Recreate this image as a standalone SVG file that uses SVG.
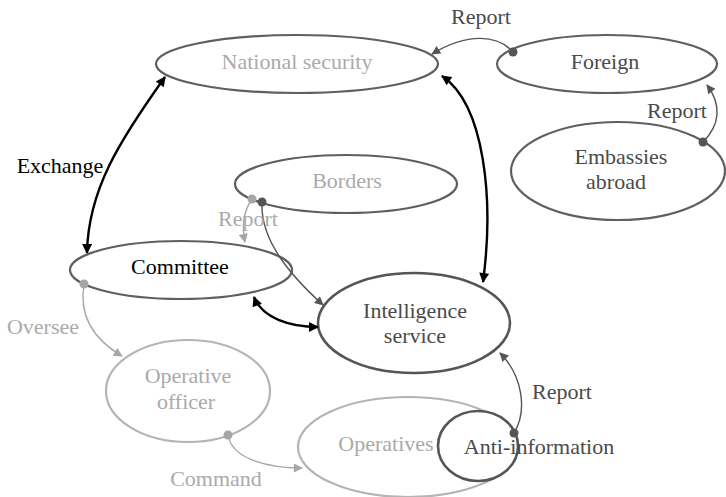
<svg xmlns="http://www.w3.org/2000/svg" width="726" height="497" viewBox="0 0 726 497" font-family="'Liberation Serif', 'DejaVu Serif', 'Times New Roman', serif">
  <style>
    text { font-family: 'Liberation Serif', 'DejaVu Serif', 'Times New Roman', serif; font-size: 22px; text-anchor: middle; }
    .node { fill: none; stroke: #5f5f5f; stroke-width: 2.2; }
    .node.light { stroke: #b4b4b4; }
    .node.strong { stroke: #555; stroke-width: 2.6; }
    .edge { fill: none; stroke-width: 1.4; }
    .edge.dark { stroke: #555; }
    .edge.grey { stroke: #a6a6a6; }
    .edge.black { stroke: #000; stroke-width: 2.4; }
    .dot-dark { fill: #555; }
    .dot-grey { fill: #a6a6a6; }
    .t-dark { fill: #4a4a4a; }
    .t-grey { fill: #aaaaaa; }
    .t-black { fill: #000; }
  </style>
  <defs>
    <marker id="ah-dark" viewBox="0 0 10 10" refX="9" refY="5" markerWidth="12" markerHeight="9" markerUnits="userSpaceOnUse" orient="auto-start-reverse">
      <path d="M0,0 L10,5 L0,10 Z" fill="#555"/>
    </marker>
    <marker id="ah-grey" viewBox="0 0 10 10" refX="9" refY="5" markerWidth="12" markerHeight="9" markerUnits="userSpaceOnUse" orient="auto-start-reverse">
      <path d="M0,0 L10,5 L0,10 Z" fill="#a6a6a6"/>
    </marker>
    <marker id="ah-black" viewBox="0 0 10 10" refX="9" refY="5" markerWidth="13" markerHeight="10" markerUnits="userSpaceOnUse" orient="auto-start-reverse">
      <path d="M0,0 L10,5 L0,10 Z" fill="#000"/>
    </marker>
  </defs>

  <!-- nodes -->
  <g id="national-security">
    <ellipse class="node" cx="297" cy="64" rx="141" ry="29"/>
    <text class="t-grey" x="297" y="69">National security</text>
  </g>
  <g id="foreign">
    <ellipse class="node" cx="607" cy="64" rx="110" ry="29"/>
    <text class="t-dark" x="605" y="69">Foreign</text>
  </g>
  <g id="embassies-abroad">
    <ellipse class="node" cx="618" cy="171" rx="107" ry="49"/>
    <text class="t-dark" x="621" y="164">Embassies</text>
    <text class="t-dark" x="616" y="189">abroad</text>
  </g>
  <g id="borders">
    <ellipse class="node" cx="346" cy="184" rx="111" ry="29"/>
    <text class="t-grey" x="347" y="188">Borders</text>
  </g>
  <g id="committee">
    <ellipse class="node" cx="181" cy="270" rx="111" ry="29"/>
    <text class="t-black" x="180" y="274">Committee</text>
  </g>
  <g id="intelligence-service">
    <ellipse class="node strong" cx="414" cy="323" rx="96" ry="50"/>
    <text class="t-dark" x="415" y="318">Intelligence</text>
    <text class="t-dark" x="415" y="343">service</text>
  </g>
  <g id="operative-officer">
    <ellipse class="node light" cx="188" cy="391" rx="82" ry="51"/>
    <text class="t-grey" x="188" y="383">Operative</text>
    <text class="t-grey" x="186" y="409">officer</text>
  </g>
  <g id="operatives">
    <ellipse class="node light" cx="408" cy="447" rx="110" ry="50"/>
    <text class="t-grey" x="386" y="451">Operatives</text>
  </g>
  <g id="anti-information">
    <ellipse class="node strong" cx="478" cy="446" rx="40" ry="35" style="fill:#fff"/>
    <text class="t-dark" x="539" y="454">Anti-information</text>
  </g>

  <!-- connectors -->
  <g id="connectors">
    <path class="edge dark" d="M513,52 C498,35 468,32 432,54" marker-end="url(#ah-dark)"/>
    <path class="edge dark" d="M703,142 C720,125 722,105 707,85" marker-end="url(#ah-dark)"/>
    <path class="edge black" d="M165,77 C120,140 88,190 87,253" marker-start="url(#ah-black)" marker-end="url(#ah-black)"/>
    <path class="edge black" d="M442,76 C485,105 494,200 483,282" marker-start="url(#ah-black)" marker-end="url(#ah-black)"/>
    <path class="edge black" d="M254,297 C262,318 290,327 318,327" marker-start="url(#ah-black)" marker-end="url(#ah-black)"/>
    <path class="edge grey" d="M252,199 C243,212 242,228 245,242" marker-end="url(#ah-grey)"/>
    <path class="edge dark" d="M262,202 C260,240 290,275 323,305" marker-end="url(#ah-dark)"/>
    <path class="edge grey" d="M84,284 C78,320 98,342 122,356" marker-end="url(#ah-grey)"/>
    <path class="edge grey" d="M228,435 C232,460 270,468 302,468" marker-end="url(#ah-grey)"/>
    <path class="edge dark" d="M514,433 C528,410 522,375 500,353" marker-end="url(#ah-dark)"/>

    <circle class="dot-dark" cx="513" cy="52" r="4.5"/>
    <circle class="dot-dark" cx="703" cy="142" r="4.5"/>
    <circle class="dot-grey" cx="252" cy="199" r="4.5"/>
    <circle class="dot-dark" cx="262" cy="202" r="4.5"/>
    <circle class="dot-grey" cx="84" cy="284" r="4.5"/>
    <circle class="dot-grey" cx="228" cy="435" r="4.5"/>
    <circle class="dot-dark" cx="514" cy="433" r="4.5"/>

    <text class="t-dark" x="481" y="24">Report</text>
    <text class="t-dark" x="677" y="118">Report</text>
    <text class="t-black" x="60" y="173">Exchange</text>
    <text class="t-grey" x="248" y="226">Report</text>
    <text class="t-grey" x="43" y="334">Oversee</text>
    <text class="t-grey" x="216" y="486">Command</text>
    <text class="t-dark" x="562" y="399">Report</text>
  </g>
</svg>
